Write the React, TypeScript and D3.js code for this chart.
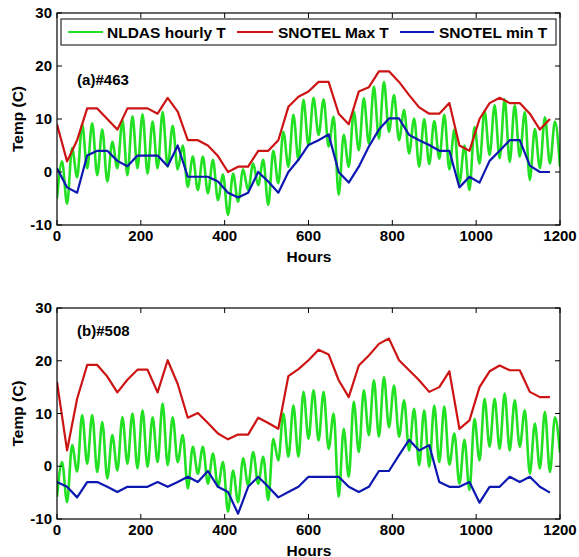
import React from 'react';
import * as d3 from 'd3';

const W = 579;
const H = 557;
const HOURS_PER_DAY = 24;
const X_DOMAIN: [number, number] = [0, 1200];
const Y_DOMAIN: [number, number] = [-10, 30];

// ---- Panel (a) #463 ----
const maxT463 = [9, 2, 6, 12, 12, 10, 8, 12, 12, 12, 11, 14, 11.4, 6, 6, 5, 3, 0, 1, 1, 4, 4, 6, 12.3, 14.2,
  15.2, 17, 17, 11, 9, 15.2, 16, 19, 19, 17, 14.5, 12.2, 11, 11, 13, 5, 4, 10, 13, 14, 13, 13, 11, 8, 10];
const minT463 = [0.7, -2.9, -3.9, 3.1, 4, 4, 2.1, 1.1, 3.1, 3.1, 3.1, 1.1, 5, -0.9, -0.9, -0.9, -1.8, -3.9, -4.8, -3.9, 0, -1.8, -3.9, 0, 2.3,
  5.1, 6, 7.1, 0, -2, 1, 4.8, 8, 10.1, 10.1, 7, 6, 5.1, 4, 4, -2.9, -0.9, -2, 2.1, 4, 6, 6, 1.2, 0, 0];
const nldasLow463 = [-5, -6, -1, 0.7, -0.6, -1.8, 0.7, -0.6, 0.7, -0.3,
  0.7, 1, 0.5, -2.8, -3.4, -4, -5.3, -8.1, -5.6, -3.4,
  -2.5, -6.2, -2.1, 1, 2.3, 5, 7, 4.8, -4.3, 1,
  4.1, 5.4, 6.3, 7.6, 6, 3.5, 1, 1.5, 2.5, 0.5,
  -2.1, -3.4, 1.6, 3.2, 2.6, 1.9, 2.9, -1.5, 0.7, 1.6];
const nldasHigh463 = [2, 4.5, 9, 9.2, 8, 5.7, 9.8, 10.5, 10.9, 9.5,
  11.3, 8.7, 5, 2.9, 2.9, 2.3, -0.5, -0.3, 0.5, 1.6,
  2.3, 4, 7.6, 10.8, 13.6, 14, 13.7, 10.4, 7, 11.4,
  13.9, 16.1, 17, 14.5, 11.7, 10.1, 10, 9.6, 10.8, 8,
  5, 8.5, 11.5, 12.6, 13.7, 12.6, 11.3, 8.1, 10.3, 9.5];
const nldasEnd463 = 1;

// ---- Panel (b) #508 ----
const maxT508 = [16, 3, 12.8, 19.2, 19.2, 17, 14, 16.4, 18.3, 18.3, 14, 20.1, 15.6, 9.2, 10.1, 8.2, 6.2, 5.1, 6, 6,
  9.2, 8.2, 7.1, 17.1, 18.4, 20.1, 22.1, 21.2, 16.3, 13.1, 19.1, 21, 23.2, 24.2, 20.1, 18.2, 16.3, 14.1, 15, 18,
  7.1, 8.7, 15, 18, 19.1, 18.2, 18.2, 14.1, 13.1, 13.1];
const minT508 = [-3, -3.9, -5.9, -3, -3, -3.9, -4.9, -3.9, -3.9, -3.9, -3, -3.9, -3, -2, -3, -0.9, -3.9, -4.9, -9, -3.9,
  -2, -3.9, -5.9, -4.9, -3.9, -2, -2, -2, -2, -3.9, -4.9, -3.9, -0.9, -0.9, 2.1, 5, 3, 4, -3, -3.9,
  -3.9, -3, -6.9, -3.9, -3.9, -2, -3, -2, -3.9, -5];
const nldasLow508 = [-5.8, -6.8, -1, 0.5, -1.1, -2.3, -0.8, 0.5, -0.4, -0.1,
  0.8, 0.2, 0.8, -4.2, -1.4, -3.3, -3.9, -8.6, -6.8, -3.6,
  -3.3, -6.4, 1.1, 1.8, 1.8, 5.2, 4.9, 3.3, -5.8, -2,
  2.7, 5.9, 5.6, 7.4, 5.6, 3, 0.2, -0.1, 0.8, 0.3,
  -3.3, -4.5, 1.1, 3.7, 3.3, 3, 3.7, -1.4, -0.4, -1.1];
const nldasHigh508 = [0.8, 4, 9.7, 9.7, 8.4, 5.9, 9.3, 10, 10.6, 9.3,
  11.9, 9.3, 5.9, 3.7, 3.7, 2.4, 0.8, -0.8, 1.5, 2.7,
  1.8, 5.2, 10, 11.5, 14.1, 14.4, 14.1, 10, 7.1, 12.2,
  14.4, 16.3, 16.9, 15.3, 12.5, 10.9, 10.6, 11.5, 11.3, 6.2,
  5, 9, 12.8, 12.8, 13.8, 12.5, 10.6, 8.1, 10.3, 9.3];
const nldasEnd508 = 2.6;

const seriesNames = ['NLDAS hourly T', 'SNOTEL Max T', 'SNOTEL min T'];
const seriesColors = ['#22e022', '#cc1414', '#0c18b0'];

const FONT = "'Liberation Sans', Arial, Helvetica, sans-serif";

type Pt = { h: number; v: number };

function dailyPoints(vals: number[]): Pt[] {
  return vals.map((v, i) => ({ h: i * HOURS_PER_DAY, v }));
}

function hourlyPoints(lows: number[], highs: number[], end: number): Pt[] {
  const pts: Pt[] = [];
  lows.forEach((lo, i) => {
    pts.push({ h: i * HOURS_PER_DAY, v: lo });
    pts.push({ h: i * HOURS_PER_DAY + HOURS_PER_DAY / 2, v: highs[i] });
  });
  pts.push({ h: X_DOMAIN[1], v: end });
  return pts;
}

interface PanelProps {
  id: string;
  top: number;
  bottom: number;
  label: string;
  labelPos: [number, number];
  maxT: number[];
  minT: number[];
  lows: number[];
  highs: number[];
  end: number;
  legend: boolean;
}

const LEFT = 57;
const RIGHT = 560;

function Panel(p: PanelProps) {
  const x = d3.scaleLinear().domain(X_DOMAIN).range([LEFT, RIGHT]);
  const y = d3.scaleLinear().domain(Y_DOMAIN).range([p.bottom, p.top]);
  const line = d3.line<Pt>().x(d => x(d.h)).y(d => y(d.v));
  const smooth = d3.line<Pt>().x(d => x(d.h)).y(d => y(d.v)).curve(d3.curveMonotoneX);
  const xt = x.ticks(6);
  const yt = y.ticks(4);
  const tl = 5;
  const clipId = 'clip-' + p.id;
  return (
    <g>
      <defs>
        <clipPath id={clipId}>
          <rect x={LEFT} y={p.top} width={RIGHT - LEFT} height={p.bottom - p.top} />
        </clipPath>
      </defs>
      <rect x={LEFT} y={p.top} width={RIGHT - LEFT} height={p.bottom - p.top} fill="#fff" />
      <g clipPath={`url(#${clipId})`}>
        <path d={smooth(hourlyPoints(p.lows, p.highs, p.end)) || ''} fill="none" stroke={seriesColors[0]} strokeWidth={2.6} strokeLinejoin="round" />
        <path d={line(dailyPoints(p.maxT)) || ''} fill="none" stroke={seriesColors[1]} strokeWidth={2.2} strokeLinejoin="round" />
        <path d={line(dailyPoints(p.minT)) || ''} fill="none" stroke={seriesColors[2]} strokeWidth={2.2} strokeLinejoin="round" />
      </g>
      {/* ticks */}
      {xt.map(t => (
        <g key={'x' + t}>
          <line x1={x(t)} x2={x(t)} y1={p.bottom} y2={p.bottom - tl} stroke="#000" strokeWidth={1} />
          <line x1={x(t)} x2={x(t)} y1={p.top} y2={p.top + tl} stroke="#000" strokeWidth={1} />
          <text x={x(t)} y={p.bottom + 16} textAnchor="middle" fontFamily={FONT} fontWeight="bold" fontSize={15}>{t}</text>
        </g>
      ))}
      {yt.map(t => (
        <g key={'y' + t}>
          <line x1={LEFT} x2={LEFT + tl} y1={y(t)} y2={y(t)} stroke="#000" strokeWidth={1} />
          <line x1={RIGHT} x2={RIGHT - tl} y1={y(t)} y2={y(t)} stroke="#000" strokeWidth={1} />
          <text x={LEFT - 5} y={y(t) + 5} textAnchor="end" fontFamily={FONT} fontWeight="bold" fontSize={15}>{t}</text>
        </g>
      ))}
      <rect x={LEFT} y={p.top} width={RIGHT - LEFT} height={p.bottom - p.top} fill="none" stroke="#000" strokeWidth={1.2} />
      <text x={(LEFT + RIGHT) / 2 + 0.5} y={p.bottom + 36.5} textAnchor="middle" fontFamily={FONT} fontWeight="bold" fontSize={15.5}>Hours</text>
      <text transform={`translate(23,${(p.top + p.bottom) / 2}) rotate(-90)`} textAnchor="middle" fontFamily={FONT} fontWeight="bold" fontSize={15.5}>Temp (C)</text>
      <text x={x(p.labelPos[0])} y={y(p.labelPos[1])} fontFamily={FONT} fontWeight="bold" fontSize={15}>{p.label}</text>
      {p.legend && (
        <g>
          <rect x={61} y={p.top + 6} width={495} height={26} fill="#fff" stroke="#000" strokeWidth={1} />
          {[[68, 103, 107], [237, 273, 278], [400, 434, 439]].map((pos, i) => (
            <g key={i}>
              <line x1={pos[0]} x2={pos[1]} y1={p.top + 19} y2={p.top + 19} stroke={seriesColors[i]} strokeWidth={2} />
              <text x={pos[2]} y={p.top + 24.5} fontFamily={FONT} fontWeight="bold" fontSize={15.5}>{seriesNames[i]}</text>
            </g>
          ))}
        </g>
      )}
    </g>
  );
}

export default function App() {
  return (
    <svg width={W} height={H} style={{ position: 'absolute', left: 0, top: 0, background: '#fff' }}>
      <rect x={0} y={0} width={W} height={H} fill="#fff" />
      <Panel id="a" top={13} bottom={225} label="(a)#463" labelPos={[48, 16.4]}
        maxT={maxT463} minT={minT463} lows={nldasLow463} highs={nldasHigh463} end={nldasEnd463} legend={true} />
      <Panel id="b" top={308} bottom={519} label="(b)#508" labelPos={[48, 24.6]}
        maxT={maxT508} minT={minT508} lows={nldasLow508} highs={nldasHigh508} end={nldasEnd508} legend={false} />
    </svg>
  );
}
